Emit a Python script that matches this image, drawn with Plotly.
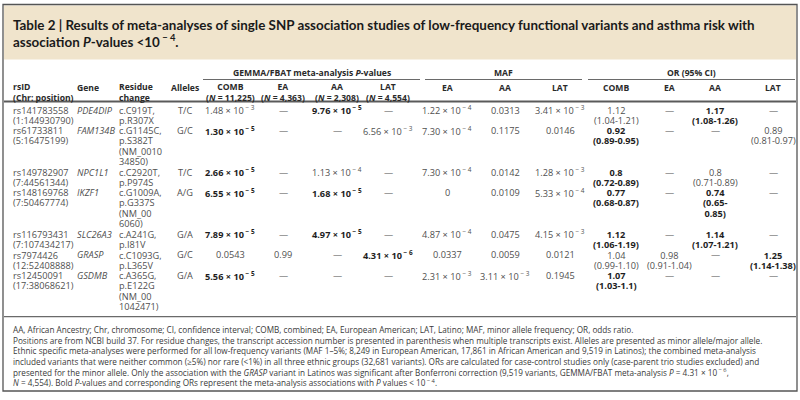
import plotly.graph_objects as go

# ---------------- data ----------------
title_line1 = ("Table 2 | Results of meta-analyses of single SNP association studies of "
               "low-frequency functional variants and asthma risk with")
title_line2 = "association <i>P</i>-values &lt;10<sup> − 4</sup>."

group_headers = ["GEMMA/FBAT meta-analysis <i>P</i>-values", "MAF", "OR (95% CI)"]
id_headers = [("rsID", "(Chr: position)"), ("Gene", ""), ("Residue", "change"), ("Alleles", "")]
p_headers = [("COMB", "(<i>N</i> = 11,225)"), ("EA", "(<i>N</i> = 4,363)"),
             ("AA", "(<i>N</i> = 2,308)"), ("LAT", "(<i>N</i> = 4,554)")]
maf_headers = ["EA", "AA", "LAT"]
or_headers = ["COMB", "EA", "AA", "LAT"]

rsids = ["rs141783558", "rs61733811", "rs149782907", "rs148169768",
         "rs116793431", "rs7974426", "rs12450091"]
positions = ["1:144930790", "5:16475199", "7:44561344", "7:50467774",
             "7:107434217", "12:52408888", "17:38068621"]
genes = ["PDE4DIP", "FAM134B", "NPC1L1", "IKZF1", "SLC26A3", "GRASP", "GSDMB"]
residues = [["c.C919T,", "p.R307X"],
            ["c.G1145C,", "p.S382T", "(NM_0010", "34850)"],
            ["c.C2920T,", "p.P974S"],
            ["c.G1009A,", "p.G337S", "(NM_00", "6060)"],
            ["c.A241G,", "p.I81V"],
            ["c.C1093G,", "p.L365V"],
            ["c.A365G,", "p.E122G", "(NM_00", "1042471)"]]
alleles = ["T/C", "G/C", "T/C", "A/G", "G/A", "G/C", "G/A"]

p_comb = ["1.48e-3", "1.30e-5", "2.66e-5", "6.55e-5", "7.89e-5", "0.0543", "5.56e-5"]
p_ea = [None, None, None, None, None, "0.99", None]
p_aa = ["9.76e-5", None, "1.13e-4", "1.68e-5", "4.97e-5", None, None]
p_lat = [None, "6.56e-3", None, None, None, "4.31e-6", None]

maf_ea = ["1.22e-4", "7.30e-4", "7.30e-4", "0", "4.87e-4", "0.0337", "2.31e-3"]
maf_aa = ["0.0313", "0.1175", "0.0142", "0.0109", "0.0475", "0.0059", "3.11e-3"]
maf_lat = ["3.41e-3", "0.0146", "1.28e-3", "5.33e-4", "4.15e-3", "0.0121", "0.1945"]

or_comb = [("1.12", "1.04-1.21"), ("0.92", "0.89-0.95"), ("0.8", "0.72-0.89"),
           ("0.77", "0.68-0.87"), ("1.12", "1.06-1.19"), ("1.04", "0.99-1.10"),
           ("1.07", "1.03-1.1")]
or_ea = [None, None, None, None, None, ("0.98", "0.91-1.04"), None]
or_aa = [("1.17", "1.08-1.26"), None, ("0.8", "0.71-0.89"), ("0.74", "0.65-|0.85"),
         ("1.14", "1.07-1.21"), None, None]
or_lat = [None, ("0.89", "0.81-0.97"), None, None, None, ("1.25", "1.14-1.38"), None]

threshold = 1e-4

footnotes = [
    "AA, African Ancestry; Chr, chromosome; CI, confidence interval; COMB, combined; EA, European American; "
    "LAT, Latino; MAF, minor allele frequency; OR, odds ratio.",
    "Positions are from NCBI build 37. For residue changes, the transcript accession number is presented in "
    "parenthesis when multiple transcripts exist. Alleles are presented as minor allele/major allele.",
    "Ethnic specific meta-analyses were performed for all low-frequency variants (MAF 1–5%; 8,249 in European "
    "American, 17,861 in African American and 9,519 in Latinos); the combined meta-analysis",
    "included variants that were neither common (≥5%) nor rare (&lt;1%) in all three ethnic groups (32,681 "
    "variants). ORs are calculated for case-control studies only (case-parent trio studies excluded) and",
    "presented for the minor allele. Only the association with the <i>GRASP</i> variant in Latinos was "
    "significant after Bonferroni correction (9,519 variants, GEMMA/FBAT meta-analysis <i>P</i> = 4.31 × 10<sup> − 6</sup>,",
    "<i>N</i> = 4,554). Bold <i>P</i>-values and corresponding ORs represent the meta-analysis associations "
    "with <i>P</i> values &lt; 10<sup> − 4</sup>.",
]

# ---------------- layout constants ----------------
FONT = "Open Sans"
TITLE_FONT = "Lato"
BODY = 9.2
HEAD = 8.6
FOOT = 8.2
C_NORM = "#505050"
C_BOLD = "#1e1e1e"
C_HEAD = "#2a2a2a"

X_RSID, X_GENE, X_RES, X_ALL = 12, 76, 118, 185
X_P = [230, 283, 337, 388]
X_MAF = [447, 505, 560]
X_OR = [616, 669, 715, 773]

Y_ROW0 = 110
LINE = 10.35

fig = go.Figure()
fig.add_trace(go.Scatter(x=[0, 800], y=[0, 400], mode="markers",
                         marker=dict(opacity=0), hoverinfo="skip", showlegend=False))


def txt(x, y, s, size=BODY, anchor="center", bold=False, color=None, family=FONT):
    if bold:
        s = "<b>" + s + "</b>"
    if color is None:
        color = C_BOLD if bold else C_NORM
    fig.add_annotation(x=x, y=y, xref="x", yref="y", text=s, showarrow=False,
                       xanchor=anchor, yanchor="middle", borderpad=0,
                       align=anchor if anchor != "center" else "center",
                       font=dict(size=size, color=color, family=family))


def cell(x, y_first, lines, anchor="center", bold=False):
    """A multi-line cell drawn as one text; line pitch = LINE."""
    if len(lines) == 1:
        txt(x, y_first, lines[0], anchor=anchor, bold=bold)
        return
    base = LINE / 1.3
    parts = []
    for ln in lines:
        s = f"<span style='font-size:{BODY}px'>{ln}</span>"
        if bold:
            s = "<b>" + s + "</b>"
        parts.append(s)
    y_mid = y_first + (len(lines) - 1) * LINE / 2
    fig.add_annotation(x=x, y=y_mid, xref="x", yref="y", text="<br>".join(parts),
                       showarrow=False, xanchor=anchor, yanchor="middle", borderpad=0,
                       align=anchor if anchor != "center" else "center",
                       font=dict(size=base, color=C_BOLD if bold else C_NORM, family=FONT))


def hline(x0, x1, y, w=1, color="#6a6a6a"):
    fig.add_shape(type="line", x0=x0, x1=x1, y0=y, y1=y, xref="x", yref="y",
                  line=dict(color=color, width=w))


def fmt(v):
    if v is None:
        return "—"
    if "e" in v:
        m, e = v.split("e")
        return f"{m} × 10<sup> − {abs(int(e))}</sup>"
    return v


def is_bold(v):
    return v is not None and float(v) < threshold


# frame and title band
fig.add_shape(type="rect", x0=4, x1=796, y0=5.5, y1=59.5, xref="x", yref="y",
              fillcolor="#f0e4cc", line=dict(width=0), layer="below")
fig.add_shape(type="rect", x0=3, x1=797, y0=4.5, y1=391, xref="x", yref="y",
              line=dict(color="#555555", width=1.3))
txt(12, 24.5, title_line1, size=13.4, anchor="left", bold=True, color="#1a1a1a", family=TITLE_FONT)
txt(12, 41, title_line2, size=13.4, anchor="left", bold=True, color="#1a1a1a", family=TITLE_FONT)

# group headers
Y_G, Y_H1, Y_HC = 73, 87.5, 92.3
groups = [(203, 420), (425, 582), (588, 795)]
for (x0, x1), g in zip(groups, group_headers):
    txt((x0 + x1) / 2, Y_G, g, size=HEAD, bold=True, color=C_HEAD)
    hline(x0, x1, 79.5, w=1)

for x, (h1, h2), anc in zip([X_RSID, X_GENE, X_RES, X_ALL], id_headers,
                            ["left", "left", "left", "center"]):
    if h2:
        txt(x, Y_HC, h1 + "<br>" + h2, size=HEAD, anchor=anc, bold=True, color=C_HEAD)
    else:
        txt(x, Y_H1, h1, size=HEAD, anchor=anc, bold=True, color=C_HEAD)
for x, (h1, h2) in zip(X_P, p_headers):
    txt(x, Y_HC, h1 + "<br>" + h2, size=HEAD, bold=True, color=C_HEAD)
for x, h in zip(X_MAF, maf_headers):
    txt(x, Y_H1, h, size=HEAD, bold=True, color=C_HEAD)
for x, h in zip(X_OR, or_headers):
    txt(x, Y_H1, h, size=HEAD, bold=True, color=C_HEAD)
hline(4, 796, 101.5, w=2, color="#5a5a5a")

# rows
p_cols = [p_comb, p_ea, p_aa, p_lat]
maf_cols = [maf_ea, maf_aa, maf_lat]
or_cols = [or_comb, or_ea, or_aa, or_lat]

line_idx = 0
for i in range(len(rsids)):
    y0 = Y_ROW0 + line_idx * LINE
    cell(X_RSID, y0, [rsids[i], "(" + positions[i] + ")"], anchor="left")
    txt(X_GENE, y0, "<i>" + genes[i] + "</i>", anchor="left")
    cell(X_RES, y0, residues[i], anchor="left")
    txt(X_ALL, y0, alleles[i])
    for x, col in zip(X_P, p_cols):
        txt(x, y0, fmt(col[i]), bold=is_bold(col[i]))
    for x, col in zip(X_MAF, maf_cols):
        txt(x, y0, fmt(col[i]))
    n_or = 1
    for x, col, pc in zip(X_OR, or_cols, p_cols):
        v = col[i]
        if v is None:
            txt(x, y0, "—")
            continue
        est, ci = v
        lines = [est] + ("(" + ci + ")").split("|")
        cell(x, y0, lines, bold=is_bold(pc[i]))
        n_or = max(n_or, len(lines))
    line_idx += max(2, len(residues[i]), n_or)

y_end = Y_ROW0 + (line_idx - 1) * LINE
hline(4, 796, y_end + 10, w=1.2, color="#6a6a6a")

# footnotes (one block)
txt(12, y_end + 24 + 2.5 * 10.2, "<br>".join(footnotes), size=FOOT, anchor="left",
    color="#3a3a3a")

fig.update_layout(
    width=800, height=400, margin=dict(l=0, r=0, t=0, b=0, autoexpand=False),
    paper_bgcolor="white", plot_bgcolor="white", showlegend=False,
    xaxis=dict(range=[0, 800], visible=False, fixedrange=True),
    yaxis=dict(range=[400, 0], visible=False, fixedrange=True),
)

fig.write_html("out.html", config={"displayModeBar": False},
               post_script="document.body.style.margin='0';")
